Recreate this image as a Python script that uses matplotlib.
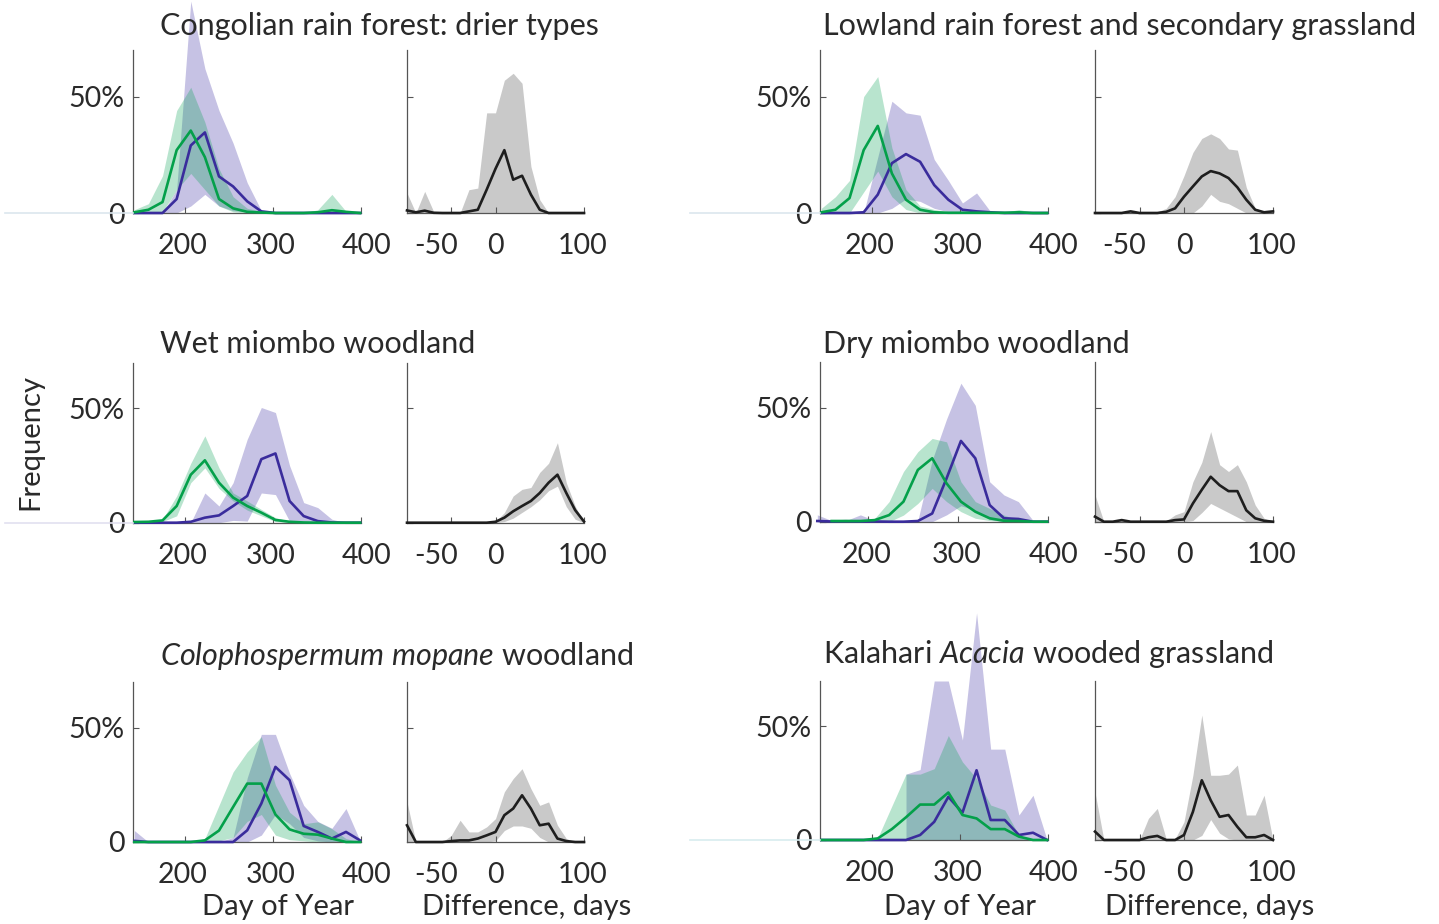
import numpy as np
import matplotlib
matplotlib.use('Agg')
import matplotlib.pyplot as plt
from matplotlib.lines import Line2D
from matplotlib.transforms import ScaledTranslation

plt.rcParams['font.family'] = ['Lato', 'DejaVu Sans']
plt.rcParams['axes.unicode_minus'] = False
plt.rcParams['mathtext.fontset'] = 'custom'
plt.rcParams['mathtext.rm'] = 'Lato'
plt.rcParams['mathtext.it'] = 'Lato:italic'

nan = np.nan

# ---------------- data ----------------
days = [143, 159, 175, 191, 207, 223, 239, 255, 271, 287, 303, 319, 335, 351, 367, 383, 399]
diffs = [-100, -90, -80, -70, -60, -50, -40, -30, -20, -10, 0, 10, 20, 30, 40, 50, 60, 70, 80, 90, 100]

titles = [r"Congolian rain forest: drier types",
          r"Lowland rain forest and secondary grassland",
          r"Wet miombo woodland",
          r"Dry miombo woodland",
          r"$\mathit{Colophospermum\ mopane}$ woodland",
          r"Kalahari $\mathit{Acacia}$ wooded grassland"]

# Panel 1: Congolian rain forest
p1_green = [0.3, 1.4, 4.7, 27, 35.4, 24, 6, 2, 0.5, 0.2, 0, 0, 0, 0.3, 1.2, 0.5, 0]
p1_green_hi = [1.4, 4, 16, 44, 54, 39, 19, 7, 2, 0.7, 0, 0, 0, 1.4, 8, 0.7, 0]
p1_green_lo = [0, 0, 0.5, 10, 17, 10, 3, 0.5, 0, 0, 0, 0, 0, 0, 0, 0, 0]
p1_blue = [0, 0, 0, 6, 29, 34.6, 15.7, 11.4, 5, 0.7, 0, 0, 0, 0, 0, 0, 0]
p1_blue_hi = [0, 0, 0, 10, 91, 62, 44, 30, 13, 1, 0, 0, 0, 0, 0, 0, 0]
p1_blue_lo = [0, 0, 0, 0, 3, 8, 3, 1, 0.5, 0, 0, 0, 0, 0, 0, 0, 0]
p1_diff = [1.1, 0.3, 1, 0.1, 0, 0, 0, 0.7, 1.4, 10, 19, 27, 14.3, 16, 7.9, 1.4, 0, 0, 0, 0, 0]
p1_diff_hi = [8.6, 0, 9.3, 0.7, 0, 0, 0, 10, 10.7, 43, 43, 57, 60, 55.7, 20, 5.7, 0, 0, 0, 0, 0]
p1_diff_lo = [0, 0, 0, 0, 0, 0, 0, 0, 0, 0, 0, 0, 0, 0, 0, 0, 0, 0, 0, 0, 0]

# Panel 2: Lowland rain forest and secondary grassland
p2_green = [0.3, 1.4, 6.4, 27, 37.4, 17, 5.7, 1.4, 0.3, 0.1, 0.1, 0.1, 0.1, 0.1, 0.3, 0, 0]
p2_green_hi = [2, 7, 14, 50, 58.6, 28, 10, 3, 1.5, 0.5, 0.3, 0.3, 0.3, 0.3, 1.5, 0.3, 0]
p2_green_lo = [0, 0, 0, 9, 18, 7, 1.5, 0, 0, 0, 0, 0, 0, 0, 0, 0, 0]
p2_blue = [0, 0, 0, 0.3, 7.9, 21.4, 25.3, 22, 12, 5.7, 1.4, 0.7, 0.3, 0, 0, 0, 0]
p2_blue_hi = [0, 0, 0, 0, 24, 48, 43, 42, 23, 14, 4.3, 8.6, 0.5, 0, 0, 0, 0]
p2_blue_lo = [0, 0, 0, 0, 0, 2, 6, 5, 2, 0.5, 0, 0, 0, 0, 0, 0, 0]
p2_diff = [0, 0, 0, 0, 0.7, 0, 0, 0, 0.5, 2, 7, 11.4, 15.7, 18, 17, 15, 11, 5.7, 1.4, 0.3, 0.7]
p2_diff_hi = [0, 0, 0, 0, 0.5, 0, 0, 0.5, 2, 7, 16, 26, 32, 34, 32, 27.5, 27, 11, 2, 0.7, 1]
p2_diff_lo = [0, 0, 0, 0, 0, 0, 0, 0, 0, 0, 0, 0, 3, 8, 5, 4, 2, 0, 0, 0, 0]

# Panel 3: Wet miombo woodland
p3_green = [0.3, 0.4, 1, 7.3, 21, 27.3, 17.5, 11, 7.3, 4.4, 1.2, 0.4, 0.1, 0, 0, 0, 0]
p3_green_hi = [0.3, 0.6, 1.5, 11.7, 26, 38, 24, 13, 9.5, 5.8, 2.2, 0.7, 0.2, 0, 0, 0, 0]
p3_green_lo = [0.2, 0.2, 0.5, 3, 17.5, 24, 15, 9.5, 5.5, 3, 0.5, 0.1, 0, 0, 0, 0, 0]
p3_blue = [0, 0, 0, 0, 0.4, 2.2, 3.2, 7.3, 11.7, 27.8, 30.3, 9.5, 2.9, 0.7, 0.1, 0, 0]
p3_blue_hi = [0, 0, 0, 0, 0, 13, 7.3, 17.5, 36.5, 50.4, 48.2, 25, 8.8, 6.6, 1.5, 0, 0]
p3_blue_lo = [0, 0, 0, 0, 0, 0, 0, 1, 0.7, 13, 12.3, 0.7, 0, 0, 0, 0, 0]
p3_diff = [0, 0, 0, 0, 0, 0, 0, 0, 0, 0, 0.4, 2.2, 5, 7.3, 9.5, 13, 17.5, 21, 13, 5.5, 0.5]
p3_diff_hi = [0, 0, 0, 0, 0, 0, 0, 0, 0, 0, 0.5, 4.4, 11.7, 14.6, 15.4, 22, 26, 35, 17.5, 7.3, 0]
p3_diff_lo = [0, 0, 0, 0, 0, 0, 0, 0, 0, 0, 0, 0.5, 2, 4.5, 7, 10, 14, 16, 7, 1.5, 0]

# Panel 4: Dry miombo woodland
p4_green = [nan, 0.3, 0.3, 0.3, 0.7, 2.9, 8.8, 22.7, 27.8, 16.8, 8.8, 4.4, 1.5, 0.4, 0.3, 0, 0]
p4_green_hi = [nan, 0.5, 0.5, 0.5, 1.5, 8.8, 22, 30.7, 36.5, 35, 17.5, 8.8, 5.8, 2.9, 0.7, 0, 0]
p4_green_lo = [nan, 0, 0, 0, 0, 0, 2.9, 8, 14.6, 8.8, 4.4, 1.5, 0.5, 0, 0, 0, 0]
p4_blue = [0.3, 0.1, 0.2, 0.1, 0.1, 0, 0, 0.3, 3.6, 19, 35.4, 27.8, 7.3, 1.5, 1.2, 0, 0]
p4_blue_hi = [3, 0.5, 0.5, 3, 0.5, 0.3, 0.3, 0.5, 27, 45, 60.7, 51, 17.5, 11.7, 8.8, 0.7, 0]
p4_blue_lo = [0, 0, 0, 0, 0, 0, 0, 0, 0, 3, 7, 5, 1, 0, 0, 0, 0]
p4_diff = [2.2, 0, 0, 0.7, 0, 0, 0, 0, 0, 0.7, 1, 8, 14, 19.7, 16, 13.4, 13.4, 5, 1.5, 0.4, 0]
p4_diff_hi = [11.7, 0, 0.5, 1, 0.3, 0.3, 0.3, 0.3, 0.3, 3, 4.4, 17.5, 26, 39.5, 25, 22, 25, 17.5, 7.3, 1.5, 0]
p4_diff_lo = [0, 0, 0, 0, 0, 0, 0, 0, 0, 0, 0, 0.5, 4, 8, 6, 4, 2, 0, 0, 0, 0]

# Panel 5: Colophospermum mopane woodland
p5_green = [0, 0, 0, 0, 0, 0.7, 5, 15.3, 25.5, 25.5, 12, 5.5, 3.6, 3.2, 1.5, 0, 0]
p5_green_hi = [0, 0, 0, 0, 0, 1.5, 16, 30.6, 39.4, 46, 24.8, 13, 8, 8.8, 5.8, 1.5, 0]
p5_green_lo = [0, 0, 0, 0, 0, 0, 0.5, 2, 9, 12, 3, 1, 0.5, 0, 0, 0, 0]
p5_blue = [0.5, 0, 0, 0, 0, 0, 0, 0, 5.1, 16.8, 32.8, 27, 7, 4.4, 1.5, 4.4, 0.7]
p5_blue_hi = [5, 0, 0, 0, 0, 0, 0, 2, 28, 47, 47, 30, 16, 9, 6, 14.6, 0.5]
p5_blue_lo = [0, 0, 0, 0, 0, 0, 0, 0, 0, 3, 12, 8, 2, 0.5, 0, 0, 0]
p5_diff = [7.3, 0, 0, 0, 0, 0.4, 0.7, 0.7, 1.5, 2.9, 4.4, 11.7, 14.6, 20.4, 14.6, 7.3, 8, 1.5, 0.4, 0, 0]
p5_diff_hi = [17.5, 0, 0, 0, 0, 2.9, 9.5, 4.4, 4.4, 6.6, 10.2, 21.9, 27.7, 32, 23.3, 16, 17.5, 7.3, 1.5, 0, 0]
p5_diff_lo = [0, 0, 0, 0, 0, 0, 0, 0, 0, 0, 0.5, 5, 7, 7, 6, 2, 0, 0, 0, 0, 0]

# Panel 6: Kalahari Acacia wooded grassland
p6_green = [0, 0, 0, 0, 0.7, 4.8, 10, 15.6, 15.6, 20.9, 11, 9.5, 4.8, 4.8, 1.5, 0, 0]
p6_green_hi = [0, 0, 0, 0, 1, 15, 29, 29, 31.4, 46, 34.4, 27, 15.4, 13.2, 2.2, 0, 0]
p6_green_lo = [0, 0, 0, 0, 0, 0, 0, 0, 0, 0, 0, 0, 0, 0, 0, 0, 0]
p6_blue = [0, 0, 0, 0, 0, 0, 0, 2.2, 8, 19, 12, 30.7, 8.8, 8.8, 2.2, 3.2, 0]
p6_blue_hi = [nan, nan, nan, nan, nan, nan, 29, 31, 70, 70, 44, 100, 40, 40, 11, 19.7, 0]
p6_blue_lo = [nan, nan, nan, nan, nan, nan, 0, 0, 0, 0, 0, 0, 0, 0, 0, 0, 0]
p6_diff = [3.7, 0, 0, 0, 0, 0, 1.2, 1.8, 0, 0, 2.2, 12.4, 26.3, 17.5, 10.2, 11, 5.8, 1.2, 1.2, 2.2, 0]
p6_diff_hi = [21, 0, 0, 0, 0, 0, 9.5, 13.9, 0.5, 0.5, 8, 28.5, 55, 28.5, 28.5, 29, 33, 11, 11, 19.7, 0]
p6_diff_lo = [0, 0, 0, 0, 0, 0, 0, 0, 0, 0, 0, 0, 2, 9, 3, 0.5, 0, 0, 0, 0, 0]

panels = [
    (p1_green, p1_green_lo, p1_green_hi, p1_blue, p1_blue_lo, p1_blue_hi, p1_diff, p1_diff_lo, p1_diff_hi),
    (p2_green, p2_green_lo, p2_green_hi, p2_blue, p2_blue_lo, p2_blue_hi, p2_diff, p2_diff_lo, p2_diff_hi),
    (p3_green, p3_green_lo, p3_green_hi, p3_blue, p3_blue_lo, p3_blue_hi, p3_diff, p3_diff_lo, p3_diff_hi),
    (p4_green, p4_green_lo, p4_green_hi, p4_blue, p4_blue_lo, p4_blue_hi, p4_diff, p4_diff_lo, p4_diff_hi),
    (p5_green, p5_green_lo, p5_green_hi, p5_blue, p5_blue_lo, p5_blue_hi, p5_diff, p5_diff_lo, p5_diff_hi),
    (p6_green, p6_green_lo, p6_green_hi, p6_blue, p6_blue_lo, p6_blue_hi, p6_diff, p6_diff_lo, p6_diff_hi),
]

day_ticks = [200, 300, 400]
diff_ticks = [-50, 0, 100]

# ---------------- layout (pixels) ----------------
W, H = 1439, 924
fig = plt.figure(figsize=(W / 100, H / 100), dpi=100)

def fx(px):
    return px / W

def fy(py):
    return 1 - py / H

def add_ax(x0, x1, ytop, ybot):
    return fig.add_axes([fx(x0), fy(ybot), (x1 - x0) / W, (ybot - ytop) / H])

col_x = [((133, 361), (407, 584)), ((820, 1048), (1095, 1273))]
row_y = [[(50, 213), (50, 213)], [(362.7, 522.7), (362, 521.7)], [(681.7, 842), (681, 840)]]
title_pos = [(160, 35), (823, 35), (160, 353), (823, 353), (160, 665), (823, 663)]
day_xlims = [(141.5, 400), (141.5, 400), (141.5, 400), (146, 399), (141.5, 400), (141.5, 400)]

SPINE = '#555555'
TXT = '#2a2a2a'
GREEN = '#04a04a'
BLUE = '#3a2c9c'
GREEN_FILL = '#00a050'
PURPLE_FILL = '#6a5fb8'
GREY_FILL = '#c9c9c9'
FS_TICK = 20.5
FS_LAB = 21
FS_TITLE = 22


def style(ax, xlim, xticks, ylabels, shifts):
    ax.set_xlim(*xlim)
    ax.set_ylim(0, 70)
    for s in ['top', 'right']:
        ax.spines[s].set_visible(False)
    for s in ['left', 'bottom']:
        ax.spines[s].set_color(SPINE)
        ax.spines[s].set_linewidth(0.9)
    ax.set_xticks(xticks)
    ax.set_xticklabels([str(t) for t in xticks])
    ax.set_yticks([0, 50])
    ax.set_yticklabels(['0', '50%'] if ylabels else ['', ''])
    ax.tick_params(direction='in', length=4, width=0.8, colors=SPINE,
                   labelcolor=TXT, labelsize=FS_TICK)
    ax.tick_params(axis='x', pad=14.5)
    ax.tick_params(axis='y', pad=6)
    ax.patch.set_visible(False)
    for tick, dx in zip(ax.xaxis.get_major_ticks(), shifts):
        if dx:
            lab = tick.label1
            lab.set_transform(lab.get_transform() + ScaledTranslation(dx / 100, 0, fig.dpi_scale_trans))


for i, p in enumerate(panels):
    g, g_lo, g_hi, b, b_lo, b_hi, d, d_lo, d_hi = p
    c = i % 2
    r = i // 2
    (lx0, lx1), (rx0, rx1) = col_x[c]
    ytop, ybot = row_y[r][c]
    ax1 = add_ax(lx0, lx1, ytop, ybot)
    ax2 = add_ax(rx0, rx1, ytop, ybot)

    f1 = ax1.fill_between(days, b_lo, b_hi, color=PURPLE_FILL, alpha=0.38, lw=0, zorder=1)
    f2 = ax1.fill_between(days, g_lo, g_hi, color=GREEN_FILL, alpha=0.28, lw=0, zorder=1.2)
    f1.set_clip_on(False)
    f2.set_clip_on(False)
    ax1.plot(days, b, color=BLUE, lw=1.9, zorder=3, clip_on=False)
    ax1.plot(days, g, color=GREEN, lw=1.9, zorder=3.1, clip_on=False)
    style(ax1, day_xlims[i], day_ticks, True, [-2, -2, 6])

    f3 = ax2.fill_between(diffs, d_lo, d_hi, color=GREY_FILL, lw=0, zorder=1)
    f3.set_clip_on(False)
    ax2.plot(diffs, d, color='#1e1e1e', lw=1.9, zorder=3, clip_on=False)
    style(ax2, (-100, 100), diff_ticks, False, [-15, 0, -1])

    tx, ty = title_pos[i]
    fig.text(fx(tx), fy(ty), titles[i], fontsize=FS_TITLE, color=TXT, ha='left', va='baseline', zorder=10)

# axis labels
for cx_day, cx_diff in [(277.8, 527), (960, 1209.6)]:
    fig.text(fx(cx_day), fy(915), 'Day of Year', fontsize=FS_LAB, color=TXT, ha='center', va='baseline')
    fig.text(fx(cx_diff), fy(915), 'Difference, days', fontsize=FS_LAB, color=TXT, ha='center', va='baseline')
fig.text(fx(30), fy(442), 'Frequency', fontsize=FS_LAB, color=TXT, ha='center', va='center', rotation=90)

# faint baseline remnants outside the axes
for (x0, x1, yy, col) in [(5, 133, 213, '#dbe6ee'), (690, 820, 213, '#dbe6ee'),
                          (5, 133, 522.7, '#e2e0f0'), (690, 820, 840, '#d8ecef')]:
    fig.add_artist(Line2D([fx(x0), fx(x1)], [fy(yy), fy(yy)], color=col, lw=1.2))

fig.savefig('out.png', dpi=100)
